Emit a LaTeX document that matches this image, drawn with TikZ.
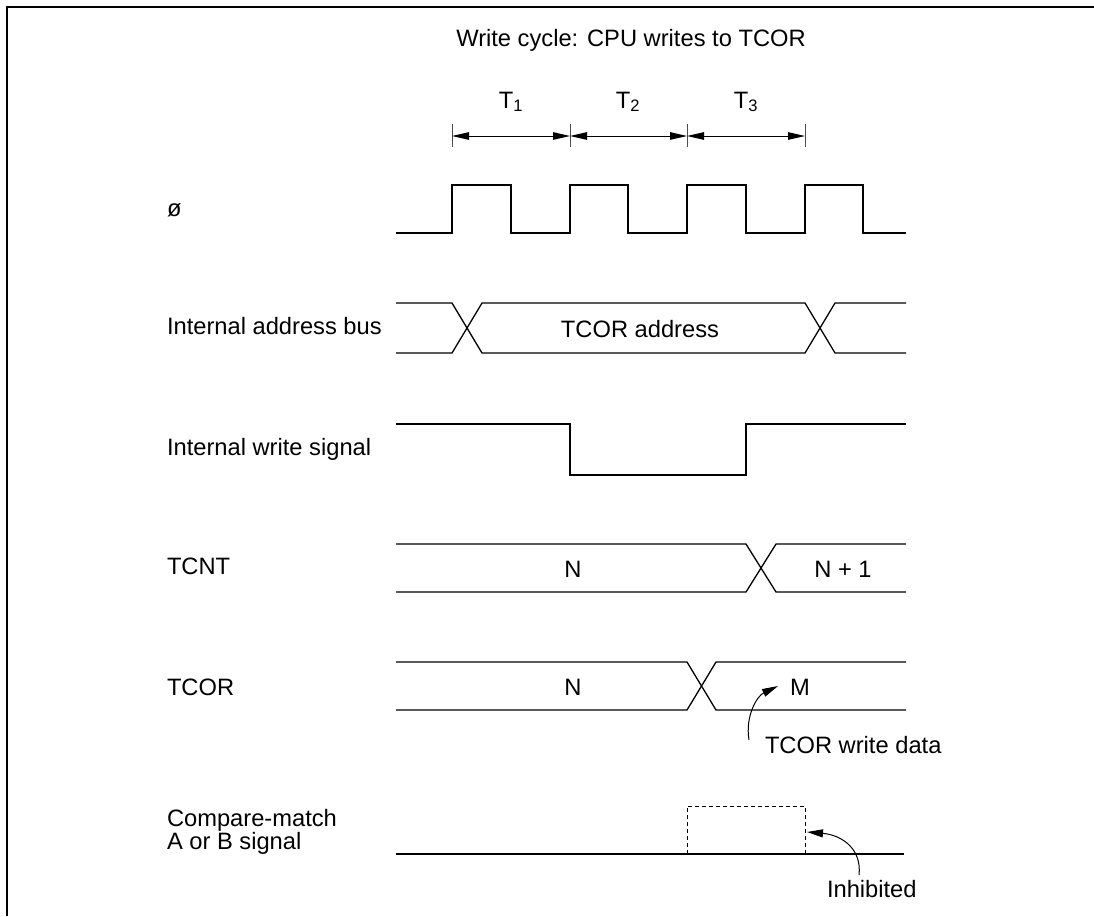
\documentclass[tikz,border=0pt]{standalone}
\usepackage{fontspec}
\setmainfont{Liberation Sans}
\usetikzlibrary{arrows.meta}
\begin{document}
\begin{tikzpicture}[x=1pt,y=-1pt,
  every node/.style={font=\fontsize{23.7}{28.4}\selectfont, inner sep=0pt, outer sep=0pt},
  sig/.style={line width=1.3pt, line join=miter},
  frame/.style={line width=1.6pt},
  tick/.style={line width=1pt, black!70},
  dim/.style={line width=1pt, {Triangle[length=17pt,width=7.5pt]}-{Triangle[length=17pt,width=7.5pt]}},
  note/.style={line width=1pt, -{Triangle[length=16pt,width=8pt]}},
  lbl/.style={anchor=base west},
  val/.style={anchor=base}]
\useasboundingbox (0,0) rectangle (1094,916);
% frame
\draw[frame] (7,916) -- (7,7) -- (1094,7);
% title
\node[val] (title) at (631,46) {Write cycle: CPU writes to TCOR};
% dimension ticks and arrows
\foreach \x/\n in {452/a,570/b,687/c,805/d}{
  \draw[tick] (\x,124) -- (\x,147);
  \coordinate (t\n) at (\x,136);
}
\draw[dim] (ta) -- (tb);
\draw[dim] (tb) -- (tc);
\draw[dim] (tc) -- (td);
\node[val] (T1) at (511,108) {T\textsubscript{1}};
\node[val] (T2) at (628,108) {T\textsubscript{2}};
\node[val] (T3) at (746,108) {T\textsubscript{3}};
% left labels
\node[lbl] (lphi) at (167,216) {ø};
\node[lbl] (lab) at (167,334) {Internal address bus};
\node[lbl] (lws) at (167,455.5) {Internal write signal};
\node[lbl] (ltcnt) at (167,574) {TCNT};
\node[lbl] (ltcor) at (167,695) {TCOR};
\node[lbl] (lcm1) at (167,826.5) {Compare-match};
\node[lbl] (lcm2) at (167,849.3) {A or B signal};
% clock
\draw[sig] (396,233) -- (452,233) -- (452,185) -- (511,185) -- (511,233) -- (570,233) -- (570,185) -- (628,185) -- (628,233) -- (687,233) -- (687,185) -- (746,185) -- (746,233) -- (805,233) -- (805,185) -- (863,185) -- (863,233) -- (906,233);
% internal address bus
\draw[sig] (396,303) -- (452,303) -- (482,353) -- (805,353) -- (835,303) -- (906,303);
\draw[sig] (396,353) -- (452,353) -- (482,303) -- (805,303) -- (835,353) -- (906,353);
\node[val] (addr) at (640,337) {TCOR address};
% internal write signal
\draw[sig] (396,424) -- (570,424) -- (570,475) -- (746,475) -- (746,424) -- (906,424);
% TCNT
\draw[sig] (396,544) -- (746,544) -- (776,592) -- (906,592);
\draw[sig] (396,592) -- (746,592) -- (776,544) -- (906,544);
\node[val] (cntN) at (573,577) {N};
\node[val] (cntN1) at (843,577) {N + 1};
% TCOR
\draw[sig] (396,662) -- (687,662) -- (716,710) -- (906,710);
\draw[sig] (396,710) -- (687,710) -- (716,662) -- (906,662);
\node[val] (corN) at (573,695) {N};
\node[val] (corM) at (800,695) {M};
\node[lbl] (wdata) at (765,753) {TCOR write data};
\coordinate (wstart) at (749,740);
\coordinate (wtip) at (778,686);
\draw[note] (wstart) .. controls (745,716) and (757,696) .. (wtip);
% compare match
\draw[sig] (396,854) -- (904,854);
\draw[line width=1pt, dash pattern=on 4pt off 3pt] (687,854) -- (687,806) -- (805,806) -- (805,854);
\node[lbl] (inh) at (827,897) {Inhibited};
\coordinate (istart) at (859,875);
\coordinate (itip) at (807,832);
\draw[note] (istart) .. controls (862,849) and (842,835) .. (itip);
\end{tikzpicture}
\end{document}
